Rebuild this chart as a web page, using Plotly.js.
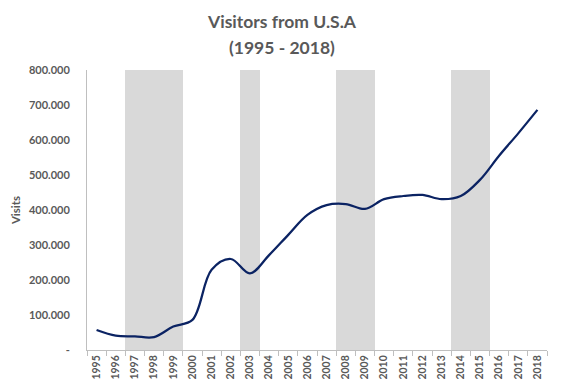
<!DOCTYPE html>
<html>
<head>
<meta charset="utf-8">
<script src="https://cdn.plot.ly/plotly-3.0.1.min.js"></script>
<style>html,body{margin:0;padding:0;background:#fff;}#chart{width:564px;height:389px;}</style>
</head>
<body>
<div id="chart"></div>
<script>
// Data
const years = ["1995","1996","1997","1998","1999","2000","2001","2002","2003","2004","2005","2006",
               "2007","2008","2009","2010","2011","2012","2013","2014","2015","2016","2017","2018"];
const visits = [57000, 41000, 39000, 37000, 67000, 86000, 229000, 260000, 219000, 271000, 329000, 386000,
                414000, 417000, 403000, 431000, 440000, 443000, 431000, 440000, 486000, 555000, 619000, 686000];
// shaded periods (1 = shaded)
const shaded = [0,0,1,1,1,0,0,0,1,0,0,0,0,1,1,0,0,0,0,1,1,0,0,0];
const yTickVals = [0,100000,200000,300000,400000,500000,600000,700000,800000];
const yTickText = ["-","100.000","200.000","300.000","400.000","500.000","600.000","700.000","800.000"];
const yMax = 800000;
const titleLine1 = "Visitors from U.S.A";
const titleLine2 = "(1995 - 2018)";

const grey = "#595959";
const font = "Lato, 'Open Sans', sans-serif";

const traces = [
  {
    type: "bar",
    x: years,
    y: shaded.map(s => s ? yMax : null),
    width: 1,
    marker: {color: "#d9d9d9", line: {width: 0}},
    hoverinfo: "skip",
    showlegend: false
  },
  {
    type: "scatter",
    mode: "lines",
    x: years,
    y: visits,
    line: {color: "#0b2363", width: 2.25, shape: "spline", smoothing: 1},
    showlegend: false
  }
];

const layout = {
  width: 564, height: 389,
  margin: {l: 87, r: 17, t: 70, b: 39},
  paper_bgcolor: "#fff", plot_bgcolor: "#fff",
  bargap: 0,
  title: {
    text: "<b>" + titleLine1 + "</b>",
    font: {family: font, size: 17.5, color: grey},
    xref: "container", yref: "container",
    x: 0.5, xanchor: "center", y: 1 - 22/389, yanchor: "middle"
  },
  annotations: [{
    text: "<b>" + titleLine2 + "</b>",
    font: {family: font, size: 17.5, color: grey},
    xref: "paper", yref: "paper",
    x: (282 - 87) / 460, xanchor: "center",
    y: (350 - 47) / 280, yanchor: "middle",
    showarrow: false
  }],
  xaxis: {
    type: "category",
    range: [-0.5, 23.5],
    tickson: "boundaries",
    ticks: "outside", ticklen: 5, tickcolor: "#bfbfbf", tickwidth: 1,
    showline: true, linecolor: "#bfbfbf", linewidth: 1,
    showgrid: false, zeroline: false,
    tickangle: -90,
    tickfont: {family: font, size: 10.5, color: grey, weight: "bold"},
    fixedrange: true
  },
  yaxis: {
    range: [0, yMax],
    tickvals: yTickVals, ticktext: yTickText,
    showline: true, linecolor: "#bfbfbf", linewidth: 1,
    showgrid: false, zeroline: false, ticks: "",
    ticklabelstandoff: 14,
    tickfont: {family: font, size: 11, color: grey, weight: "bold"},
    title: {text: "<b>Visits</b>", font: {family: font, size: 11.5, color: grey}, standoff: 5},
    fixedrange: true
  }
};

Plotly.newPlot("chart", traces, layout, {displayModeBar: false, staticPlot: true});
</script>
</body>
</html>
